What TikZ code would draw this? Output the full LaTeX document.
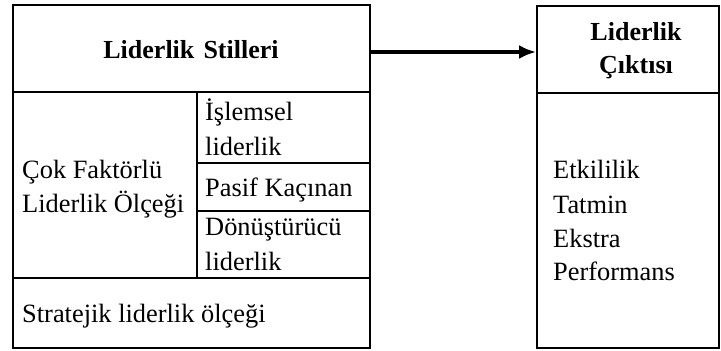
\documentclass[tikz,border=0pt]{standalone}
\usepackage{fontspec}
\setmainfont{Liberation Serif}
\usetikzlibrary{fit,arrows.meta}
\begin{document}
\begin{tikzpicture}[x=1pt,y=-1pt,
  cell/.style={draw, line width=1.8pt, inner sep=0pt, fit=#1},
  txt/.style={anchor=base west, inner sep=0pt, font=\fontsize{26.4}{34}\selectfont},
  ctxt/.style={anchor=base, inner sep=0pt, font=\fontsize{26}{34}\selectfont\bfseries},
  arr/.style={line width=3.8pt, -{Latex[length=17pt,width=14pt]}}]
\useasboundingbox (0,0) rectangle (721,351);
% corner coordinates
\coordinate (a1) at (13,5);   \coordinate (a2) at (370,92);
\coordinate (b1) at (13,92);  \coordinate (b2) at (197,278);
\coordinate (c1) at (197,92); \coordinate (c2) at (370,163);
\coordinate (d1) at (197,163);\coordinate (d2) at (370,211);
\coordinate (e1) at (197,211);\coordinate (e2) at (370,278);
\coordinate (f1) at (13,278); \coordinate (f2) at (370,348);
\coordinate (g1) at (537,6);  \coordinate (g2) at (719,93);
\coordinate (h1) at (537,93); \coordinate (h2) at (719,348);
% cells
\node[cell={(a1)(a2)}] (lsh) {};
\node[cell={(b1)(b2)}] (mlq) {};
\node[cell={(c1)(c2)}] (isl) {};
\node[cell={(d1)(d2)}] (pas) {};
\node[cell={(e1)(e2)}] (don) {};
\node[cell={(f1)(f2)}] (str) {};
\node[cell={(g1)(g2)}] (loh) {};
\node[cell={(h1)(h2)}] (lob) {};
% texts
\node[ctxt] (t1) at (191,58) {Liderlik\hspace{0.35em}Stilleri};
\node[txt] (t2) at (22,178) {Çok Faktörlü};
\node[txt] (t3) at (22,212) {Liderlik Ölçeği};
\node[txt] (t4) at (205,120) {İşlemsel};
\node[txt] (t5) at (205,155) {liderlik};
\node[txt] (t6) at (205,196) {Pasif Kaçınan};
\node[txt] (t7) at (205,235) {Dönüştürücü};
\node[txt] (t8) at (205,270) {liderlik};
\node[txt] (t9) at (22,322) {Stratejik liderlik ölçeği};
\node[ctxt] (t10) at (636,40) {Liderlik};
\node[ctxt] (t11) at (636,73) {Çıktısı};
\node[txt] (t12) at (553,178) {Etkililik};
\node[txt] (t13) at (553,213) {Tatmin};
\node[txt] (t14) at (553,247) {Ekstra};
\node[txt] (t15) at (553,280) {Performans};
% arrow
\draw[arr] ([yshift=-3.5pt]lsh.east) -- ([yshift=-3.5pt]lsh.east -| loh.west);
\end{tikzpicture}
\end{document}
